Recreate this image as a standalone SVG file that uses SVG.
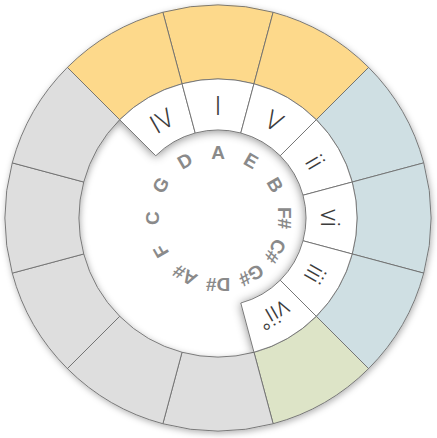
<svg xmlns="http://www.w3.org/2000/svg" width="437" height="438" viewBox="0 0 437 438">
<defs>
<filter id="sh" x="-20%" y="-20%" width="140%" height="140%">
<feGaussianBlur in="SourceAlpha" stdDeviation="3"/>
<feOffset dx="1" dy="2" result="b"/>
<feFlood flood-color="#000" flood-opacity="0.3"/>
<feComposite in2="b" operator="in" result="s"/>
<feMerge><feMergeNode in="s"/><feMergeNode in="SourceGraphic"/></feMerge>
</filter>
<filter id="sh2" x="-20%" y="-20%" width="140%" height="140%">
<feGaussianBlur in="SourceAlpha" stdDeviation="5"/>
<feOffset dx="0" dy="1" result="b"/>
<feFlood flood-color="#000" flood-opacity="0.45"/>
<feComposite in2="b" operator="in" result="s"/>
<feMerge><feMergeNode in="s"/><feMergeNode in="SourceGraphic"/></feMerge>
</filter>
<clipPath id="inside"><circle cx="218" cy="218" r="139.5"/></clipPath>
<style>
.seg{stroke:#6e6e6e;stroke-width:0.9;stroke-linejoin:round}
.or{fill:#fdd98b}
.bl{fill:#cfdfe3}
.gr{fill:#dde4c7}
.gy{fill:#dedede}
.wh{fill:#ffffff}
.num{font-family:Roboto,'Lato','Open Sans',sans-serif;font-weight:300;font-size:26px;fill:#3c3c3c;text-anchor:middle;dominant-baseline:central}
.key{font-family:'Liberation Sans',Arial,sans-serif;font-weight:bold;font-size:19px;fill:#8a8a8a;text-anchor:middle;dominant-baseline:central}
</style>
</defs>
<rect width="437" height="438" fill="#ffffff"/>
<g id="outer-ring" filter="url(#sh)">
<path id="o-I" class="seg or" d="M162.87,12.26 A213,213 0 0 1 273.13,12.26 L253.98,83.74 A139,139 0 0 0 182.02,83.74 Z"/>
<path id="o-V" class="seg or" d="M273.13,12.26 A213,213 0 0 1 368.61,67.39 L316.29,119.71 A139,139 0 0 0 253.98,83.74 Z"/>
<path id="o-ii" class="seg bl" d="M368.61,67.39 A213,213 0 0 1 423.74,162.87 L352.26,182.02 A139,139 0 0 0 316.29,119.71 Z"/>
<path id="o-vi" class="seg bl" d="M423.74,162.87 A213,213 0 0 1 423.74,273.13 L352.26,253.98 A139,139 0 0 0 352.26,182.02 Z"/>
<path id="o-iii" class="seg bl" d="M423.74,273.13 A213,213 0 0 1 368.61,368.61 L316.29,316.29 A139,139 0 0 0 352.26,253.98 Z"/>
<path id="o-vii" class="seg gr" d="M368.61,368.61 A213,213 0 0 1 273.13,423.74 L253.98,352.26 A139,139 0 0 0 316.29,316.29 Z"/>
<path id="o-g1" class="seg gy" d="M273.13,423.74 A213,213 0 0 1 162.87,423.74 L182.02,352.26 A139,139 0 0 0 253.98,352.26 Z"/>
<path id="o-g2" class="seg gy" d="M162.87,423.74 A213,213 0 0 1 67.39,368.61 L119.71,316.29 A139,139 0 0 0 182.02,352.26 Z"/>
<path id="o-g3" class="seg gy" d="M67.39,368.61 A213,213 0 0 1 12.26,273.13 L83.74,253.98 A139,139 0 0 0 119.71,316.29 Z"/>
<path id="o-g4" class="seg gy" d="M12.26,273.13 A213,213 0 0 1 12.26,162.87 L83.74,182.02 A139,139 0 0 0 83.74,253.98 Z"/>
<path id="o-g5" class="seg gy" d="M12.26,162.87 A213,213 0 0 1 67.39,67.39 L119.71,119.71 A139,139 0 0 0 83.74,182.02 Z"/>
<path id="o-IV" class="seg or" d="M67.39,67.39 A213,213 0 0 1 162.87,12.26 L182.02,83.74 A139,139 0 0 0 119.71,119.71 Z"/>
</g>
<g clip-path="url(#inside)">
<g id="chord-ring" filter="url(#sh2)">
<path id="r-IV" class="seg wh" d="M119.71,119.71 A139,139 0 0 1 182.02,83.74 L195.22,133.00 A88,88 0 0 0 155.78,155.78 Z"/>
<path id="r-I" class="seg wh" d="M182.02,83.74 A139,139 0 0 1 253.98,83.74 L240.78,133.00 A88,88 0 0 0 195.22,133.00 Z"/>
<path id="r-V" class="seg wh" d="M253.98,83.74 A139,139 0 0 1 316.29,119.71 L280.23,155.78 A88,88 0 0 0 240.78,133.00 Z"/>
<path id="r-ii" class="seg wh" d="M316.29,119.71 A139,139 0 0 1 352.26,182.02 L303.00,195.22 A88,88 0 0 0 280.23,155.78 Z"/>
<path id="r-vi" class="seg wh" d="M352.26,182.02 A139,139 0 0 1 352.26,253.98 L303.00,240.78 A88,88 0 0 0 303.00,195.22 Z"/>
<path id="r-iii" class="seg wh" d="M352.26,253.98 A139,139 0 0 1 316.29,316.29 L280.23,280.23 A88,88 0 0 0 303.00,240.78 Z"/>
<path id="r-vii" class="seg wh" d="M316.29,316.29 A139,139 0 0 1 253.98,352.26 L240.78,303.00 A88,88 0 0 0 280.23,280.23 Z"/>
</g>
</g>
<g id="numerals">
<text class="num" x="218" y="106" transform="rotate(-30 218 218)">IV</text>
<text class="num" x="218" y="106">I</text>
<text class="num" x="218" y="106" transform="rotate(30 218 218)">V</text>
<text class="num" x="218" y="106" transform="rotate(60 218 218)">ii</text>
<text class="num" x="218" y="106" transform="rotate(90 218 218)">vi</text>
<text class="num" x="218" y="106" transform="rotate(120 218 218)">iii</text>
<text class="num" x="218" y="106" transform="rotate(150 218 218)">vii°</text>
</g>
<g id="keys">
<text class="key" x="218" y="152">A</text>
<text class="key" x="218" y="152" transform="rotate(30 218 218)">E</text>
<text class="key" x="218" y="152" transform="rotate(60 218 218)">B</text>
<text class="key" x="218" y="152" transform="rotate(90 218 218)">F#</text>
<text class="key" x="218" y="152" transform="rotate(120 218 218)">C#</text>
<text class="key" x="218" y="152" transform="rotate(150 218 218)">G#</text>
<text class="key" x="218" y="152" transform="rotate(180 218 218)">D#</text>
<text class="key" x="218" y="152" transform="rotate(210 218 218)">A#</text>
<text class="key" x="218" y="152" transform="rotate(240 218 218)">F</text>
<text class="key" x="218" y="152" transform="rotate(270 218 218)">C</text>
<text class="key" x="218" y="152" transform="rotate(300 218 218)">G</text>
<text class="key" x="218" y="152" transform="rotate(330 218 218)">D</text>
</g>
</svg>
